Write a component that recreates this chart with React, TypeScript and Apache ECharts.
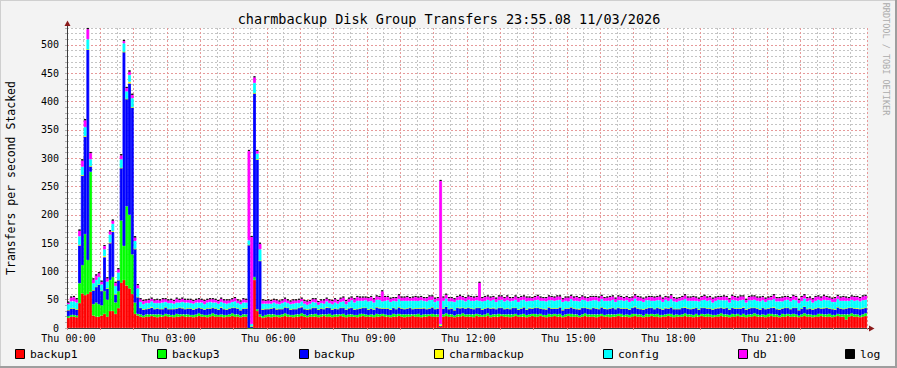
import React, { useEffect, useRef } from 'react';
import * as echarts from 'echarts';

// ---- data (5-minute steps, 288 bars, Thu 00:00 -> 24:00) ----
const categories: string[] = Array.from({ length: 288 }, (_, i) =>
  `${String(Math.floor(i / 12)).padStart(2, '0')}:${String((i % 12) * 5).padStart(2, '0')}`
);

const seriesNames = ['backup1', 'backup3', 'backup', 'charmbackup', 'config', 'db', 'log'];
const seriesColors = ['#FF0000', '#00FF00', '#0000FF', '#FFFF00', '#00FFFF', '#FF00FF', '#000000'];

const backup1 = [
  18,20,20,19,44,61,58,60,64,22,20,20,22,25,20,30,30,25,35,80,85,75,70,60,
  25,22,20,19,20,20,21,20,19,20,20,21,20,20,19,20,20,21,20,20,20,19,20,21,
  20,20,19,20,21,20,20,20,19,20,20,21,20,20,19,20,20,0,0,85,30,20,18,19,
  20,19,20,20,19,20,21,20,20,19,20,20,21,20,19,20,20,20,19,20,21,20,20,19,
  20,20,21,20,19,20,20,20,19,20,21,20,20,20,19,20,20,21,20,20,19,20,20,21,
  20,19,20,20,21,20,20,19,20,20,21,20,20,20,3,20,21,20,20,19,20,20,21,20,
  20,20,19,21,20,20,20,21,19,20,20,20,21,20,20,19,20,21,20,20,20,19,20,21,
  20,20,21,20,19,20,20,21,20,20,19,20,21,20,20,20,19,20,21,20,20,20,19,20,
  21,20,20,19,20,20,21,20,20,20,19,20,21,20,20,19,20,20,21,20,20,19,20,20,
  21,20,19,20,20,20,21,20,20,19,20,20,21,20,20,20,19,20,20,21,20,20,19,20,
  20,21,20,20,19,20,20,21,20,20,20,19,20,21,20,20,19,20,20,21,20,20,20,19,
  20,21,20,20,19,20,20,21,20,20,20,19,20,21,20,20,15,20,21,20,20,19,20,21,
];
const backup3 = [
  3,3,3,3,35,50,108,60,212,20,25,22,18,40,30,55,60,20,30,110,60,140,130,70,
  20,3,4,3,4,4,3,4,5,4,3,4,4,3,4,5,4,3,4,4,3,4,4,5,
  4,3,4,4,5,4,3,4,4,3,4,5,4,4,3,4,4,0,0,5,3,4,3,4,
  4,5,4,3,4,4,5,4,3,4,4,4,5,4,3,4,4,5,4,4,3,4,5,4,
  4,4,3,5,4,4,4,3,4,5,4,4,3,4,4,5,4,4,4,3,4,5,4,4,
  4,5,4,4,3,4,5,4,4,4,3,5,4,4,0,4,5,4,4,3,4,4,5,4,
  4,4,5,4,4,3,4,5,4,4,4,5,3,4,4,5,4,4,3,4,5,4,4,4,
  5,4,4,3,4,5,4,4,4,5,3,4,4,5,4,4,3,4,5,4,4,4,5,4,
  4,3,4,5,4,4,4,5,3,4,4,5,4,4,4,3,5,4,4,4,5,4,3,4,
  4,5,4,4,3,4,5,4,4,4,5,3,4,4,5,4,4,3,4,5,4,4,4,5,
  4,4,3,5,4,4,4,5,4,3,4,4,5,4,4,4,3,5,4,4,4,5,4,3,
  4,5,4,4,4,3,5,4,4,4,5,4,3,4,4,4,9,4,5,4,4,3,4,5,
];
const backup = [
  11,12,12,11,67,158,172,372,10,25,28,35,26,60,20,65,80,15,20,93,343,190,232,260,
  95,30,12,11,10,11,12,10,11,10,11,12,10,11,11,10,12,11,10,11,12,10,11,10,
  11,10,12,11,10,11,10,12,11,10,11,10,12,11,10,11,11,147,3,325,265,95,12,11,
  10,11,12,10,11,10,11,12,10,11,10,12,11,10,11,10,12,11,10,11,10,12,11,10,
  11,10,12,11,10,11,12,10,11,10,11,12,10,11,10,12,11,10,11,12,10,11,10,12,
  11,10,11,12,10,11,10,12,11,10,11,12,10,11,0,11,12,10,11,10,12,11,10,11,
  12,11,10,11,12,10,11,10,12,11,10,11,12,10,11,10,12,11,10,11,12,10,11,10,
  11,12,10,11,10,12,11,10,11,12,10,11,10,12,11,10,11,12,10,11,10,12,11,10,
  12,11,10,11,12,10,11,10,12,11,10,11,12,11,10,11,10,12,11,10,11,12,10,11,
  10,12,11,10,11,12,10,11,10,12,11,10,11,12,10,11,10,12,11,10,11,12,10,11,
  11,10,12,11,10,11,12,10,11,10,12,11,10,11,12,10,11,10,12,11,10,11,12,10,
  11,12,10,11,10,12,11,10,11,12,10,11,10,12,11,10,11,12,10,11,10,12,11,10,
];
const charmbackup = [
  0,0,0,0,1,1,1,0,0,0,0,0,0,2,0,1,1,0,0,0,0,0,3,0,
  0,0,0,0,0,0,1,0,0,0,0,0,0,0,0,0,0,1,0,0,0,0,0,0,
  0,0,0,0,0,0,0,1,0,0,0,0,0,0,0,0,0,0,0,0,0,0,0,0,
  0,0,0,1,0,0,0,0,0,0,0,0,1,0,0,0,0,0,0,0,0,1,0,0,
  0,0,0,0,0,1,0,0,0,0,0,0,0,0,0,0,1,0,0,0,0,0,0,0,
  0,0,0,0,0,0,0,0,1,0,0,0,0,0,4,0,0,0,0,0,0,1,0,0,
  0,0,0,0,0,0,0,0,0,1,0,0,0,0,0,0,0,0,0,0,0,0,1,0,
  0,0,0,0,1,0,0,0,0,0,0,0,0,0,0,0,1,0,0,0,0,0,0,0,
  0,1,0,0,0,0,0,0,0,0,0,0,1,0,0,0,0,0,0,0,0,0,0,1,
  0,0,0,0,0,0,1,0,0,0,0,0,0,0,0,0,0,0,1,0,0,0,0,0,
  0,0,0,1,0,0,0,0,0,0,0,0,0,0,1,0,0,0,0,0,0,0,0,0,
  0,0,0,0,0,0,0,0,1,0,0,0,0,0,0,0,0,0,0,0,1,0,0,0,
];
const config = [
  10,12,12,12,15,15,16,18,12,12,12,13,11,12,12,14,13,14,13,15,15,13,12,16,
  14,15,10,9,10,9,10,10,9,10,11,9,10,10,9,10,9,10,11,10,9,10,10,9,
  10,9,10,11,9,10,10,9,10,10,9,10,11,9,10,10,10,8,4,18,10,20,10,9,
  9,8,9,9,8,10,9,8,9,9,10,8,9,9,8,9,10,9,8,9,9,10,8,9,
  10,9,10,11,9,10,13,12,14,13,12,13,14,13,12,13,14,12,13,14,13,12,13,14,
  13,14,13,12,14,13,13,14,12,13,14,13,12,13,0,13,14,13,12,14,13,14,13,12,
  14,13,14,13,12,14,13,14,13,14,12,13,14,13,14,13,12,14,13,14,13,14,12,13,
  13,14,13,14,13,12,14,13,14,13,14,13,12,14,13,14,13,14,13,12,14,13,14,13,
  14,13,14,13,14,12,13,14,13,14,13,12,14,13,14,13,14,13,12,14,13,14,13,14,
  13,14,13,12,14,13,14,13,14,13,12,14,13,14,13,14,12,13,14,13,14,13,12,14,
  14,13,14,13,12,14,13,14,13,14,13,12,14,13,14,13,14,12,13,14,13,14,13,12,
  13,14,13,14,12,13,14,13,14,13,14,12,13,14,13,14,13,12,14,13,14,13,14,14,
];
const db = [
  3,7,8,6,10,11,12,18,11,7,8,7,5,6,6,6,6,6,6,7,4,6,6,6,
  6,6,5,6,5,6,5,5,6,5,6,5,5,6,5,7,5,6,5,5,6,5,5,6,
  5,6,5,5,6,5,5,6,5,6,5,5,6,5,5,6,5,158,154,10,5,10,6,5,
  6,5,5,6,5,5,6,5,5,6,5,6,5,5,6,5,5,6,5,5,6,5,5,6,
  6,5,6,7,6,6,5,6,7,6,6,5,6,7,6,6,5,18,7,6,6,5,6,7,
  6,6,7,5,6,7,6,6,5,6,7,6,6,5,253,6,7,6,6,5,6,7,6,6,
  6,7,6,6,32,6,7,6,6,5,6,7,6,6,7,6,5,6,7,6,6,7,6,5,
  6,7,6,5,6,7,6,6,7,6,5,6,7,6,6,7,6,6,5,6,7,6,6,7,
  6,5,6,7,6,6,7,6,5,6,7,6,6,7,6,6,5,6,7,6,6,7,6,5,
  6,7,6,6,5,6,7,6,6,7,6,5,6,7,6,6,7,6,5,6,7,6,6,7,
  6,6,7,6,5,6,7,6,6,7,6,6,5,6,7,6,6,7,6,5,6,7,6,6,
  7,6,6,5,6,7,6,6,7,6,5,6,7,6,6,7,6,5,6,7,6,6,7,7,
];
const log = [
  1.5,1.5,1.5,1.5,2,2,2,2,2,1.5,1.5,1.5,1.5,1.5,1.5,1.5,1.5,1.5,1.5,2,2,2,2,2,
  2,1.5,1.5,1.5,1.5,1.5,1.5,1.5,1.5,1.5,1.5,1.5,1.5,1.5,1.5,1.5,1.5,1.5,1.5,1.5,1.5,1.5,1.5,1.5,
  1.5,1.5,1.5,1.5,1.5,1.5,1.5,1.5,1.5,1.5,1.5,1.5,1.5,1.5,1.5,1.5,1.5,1.5,1.5,1.5,1.5,1.5,1.5,1.5,
  1.5,1.5,1.5,1.5,1.5,1.5,1.5,1.5,1.5,1.5,1.5,1.5,1.5,1.5,1.5,1.5,1.5,1.5,1.5,1.5,1.5,1.5,1.5,1.5,
  1.5,1.5,1.5,1.5,1.5,1.5,1.5,1.5,1.5,1.5,1.5,1.5,1.5,1.5,1.5,1.5,1.5,1.5,1.5,1.5,1.5,1.5,1.5,1.5,
  1.5,1.5,1.5,1.5,1.5,1.5,1.5,1.5,1.5,1.5,1.5,1.5,1.5,1.5,1.5,1.5,1.5,1.5,1.5,1.5,1.5,1.5,1.5,1.5,
  1.5,1.5,1.5,1.5,1.5,1.5,1.5,1.5,1.5,1.5,1.5,1.5,1.5,1.5,1.5,1.5,1.5,1.5,1.5,1.5,1.5,1.5,1.5,1.5,
  1.5,1.5,1.5,1.5,1.5,1.5,1.5,1.5,1.5,1.5,1.5,1.5,1.5,1.5,1.5,1.5,1.5,1.5,1.5,1.5,1.5,1.5,1.5,1.5,
  1.5,1.5,1.5,1.5,1.5,1.5,1.5,1.5,1.5,1.5,1.5,1.5,1.5,1.5,1.5,1.5,1.5,1.5,1.5,1.5,1.5,1.5,1.5,1.5,
  1.5,1.5,1.5,1.5,1.5,1.5,1.5,1.5,1.5,1.5,1.5,1.5,1.5,1.5,1.5,1.5,1.5,1.5,1.5,1.5,1.5,1.5,1.5,1.5,
  1.5,1.5,1.5,1.5,1.5,1.5,1.5,1.5,1.5,1.5,1.5,1.5,1.5,1.5,1.5,1.5,1.5,1.5,1.5,1.5,1.5,1.5,1.5,1.5,
  1.5,1.5,1.5,1.5,1.5,1.5,1.5,1.5,1.5,1.5,1.5,1.5,1.5,1.5,1.5,1.5,1.5,1.5,1.5,1.5,1.5,1.5,1.5,1.5,
];

const seriesData = [backup1, backup3, backup, charmbackup, config, db, log];

const titleText = 'charmbackup Disk Group Transfers 23:55.08 11/03/2026';
const yAxisTitle = 'Transfers per second Stacked';
const watermark = 'RRDTOOL / TOBI OETIKER';
const yMax = 530;
const legendX = [15, 157, 299, 434, 603, 738, 845];

const MONO = '"DejaVu Sans Mono", monospace';
const MAJOR = '#e69a9a';
const MINOR = '#c4c4c4';

export default function App() {
  const ref = useRef<HTMLDivElement>(null);
  useEffect(() => {
    document.body.style.margin = '0';
    const chart = echarts.init(ref.current as HTMLDivElement, null, { renderer: 'svg' });

    const legendGraphics: any[] = [];
    seriesNames.forEach((n, k) => {
      legendGraphics.push({
        type: 'rect',
        silent: true,
        shape: { x: legendX[k] + 0.5, y: 349.5, width: 9, height: 9 },
        style: { fill: seriesColors[k], stroke: '#000', lineWidth: 1 },
      });
      legendGraphics.push({
        type: 'text',
        silent: true,
        x: legendX[k] + 15,
        y: 354.5,
        style: { text: n, font: `11.3px ${MONO}`, fill: '#000', verticalAlign: 'middle', align: 'left' },
      });
    });

    const option: any = {
      animation: false,
      backgroundColor: '#F3F3F3',
      grid: { left: 67, top: 28, width: 800, height: 300, show: true, backgroundColor: '#FFFFFF', borderWidth: 0 },
      xAxis: {
        type: 'category',
        data: categories,
        boundaryGap: true,
        axisLine: { show: true, lineStyle: { color: '#3c3c3c', width: 1 } },
        axisTick: { show: true, interval: 11, length: 2, lineStyle: { color: '#e08080' } },
        axisLabel: {
          interval: 35,
          formatter: (v: string) => 'Thu ' + v,
          fontFamily: MONO,
          fontSize: 10,
          color: '#000',
          margin: 5,
        },
        splitLine: { show: true, interval: 5, lineStyle: { color: [MAJOR, MINOR], type: [2, 2], width: 1 } },
      },
      yAxis: {
        type: 'value',
        min: 0,
        max: yMax,
        interval: 10,
        axisLine: { show: true, lineStyle: { color: '#3c3c3c', width: 1 } },
        axisTick: { show: true, length: 2, lineStyle: { color: '#b0b0b0' } },
        axisLabel: {
          formatter: (v: number) => (v % 50 === 0 ? String(v) : ''),
          fontFamily: MONO,
          fontSize: 10,
          color: '#000',
          margin: 8,
        },
        splitLine: { show: true, lineStyle: { color: [MAJOR, MINOR, MINOR, MINOR, MINOR], type: [2, 2], width: 1 } },
      },
      series: seriesNames.map((n, k) => ({
        name: n,
        type: 'bar',
        stack: 'total',
        data: seriesData[k],
        barCategoryGap: '0%',
        silent: true,
        itemStyle: { color: seriesColors[k], borderColor: seriesColors[k], borderWidth: 0.8 },
        emphasis: { disabled: true },
      })),
      graphic: [
        // frame shading
        { type: 'rect', silent: true, shape: { x: 0, y: 0, width: 897, height: 1 }, style: { fill: '#CFCFCF' } },
        { type: 'rect', silent: true, shape: { x: 0, y: 0, width: 1, height: 368 }, style: { fill: '#CFCFCF' } },
        { type: 'rect', silent: true, shape: { x: 895, y: 0, width: 2, height: 368 }, style: { fill: '#9E9E9E' } },
        { type: 'rect', silent: true, shape: { x: 0, y: 366, width: 897, height: 2 }, style: { fill: '#9E9E9E' } },
        // axis extensions and arrows
        { type: 'line', silent: true, shape: { x1: 67.5, y1: 28, x2: 67.5, y2: 24 }, style: { stroke: '#3c3c3c', lineWidth: 1 } },
        { type: 'line', silent: true, shape: { x1: 867, y1: 328.5, x2: 870, y2: 328.5 }, style: { stroke: '#3c3c3c', lineWidth: 1 } },
        { type: 'polygon', silent: true, shape: { points: [[64.5, 26], [70.5, 26], [67.5, 20.5]] }, style: { fill: '#8b1a1a' } },
        { type: 'polygon', silent: true, shape: { points: [[869, 325.5], [869, 331.5], [874.5, 328.5]] }, style: { fill: '#8b1a1a' } },
        // texts
        {
          type: 'text', silent: true, x: 449, y: 19,
          style: { text: titleText, font: `13.5px ${MONO}`, fill: '#000', align: 'center', verticalAlign: 'middle' },
        },
        {
          type: 'text', silent: true, x: 11, y: 178, rotation: Math.PI / 2,
          style: { text: yAxisTitle, font: `11.5px ${MONO}`, fill: '#000', align: 'center', verticalAlign: 'middle' },
        },
        {
          type: 'text', silent: true, x: 886, y: 59, rotation: -Math.PI / 2,
          style: { text: watermark, font: `8.5px ${MONO}`, fill: '#ababab', align: 'center', verticalAlign: 'middle' },
        },
        ...legendGraphics,
      ],
    };
    chart.setOption(option);
    return () => chart.dispose();
  }, []);
  return <div ref={ref} style={{ position: 'absolute', left: 0, top: 0, width: 897, height: 368 }} />;
}
